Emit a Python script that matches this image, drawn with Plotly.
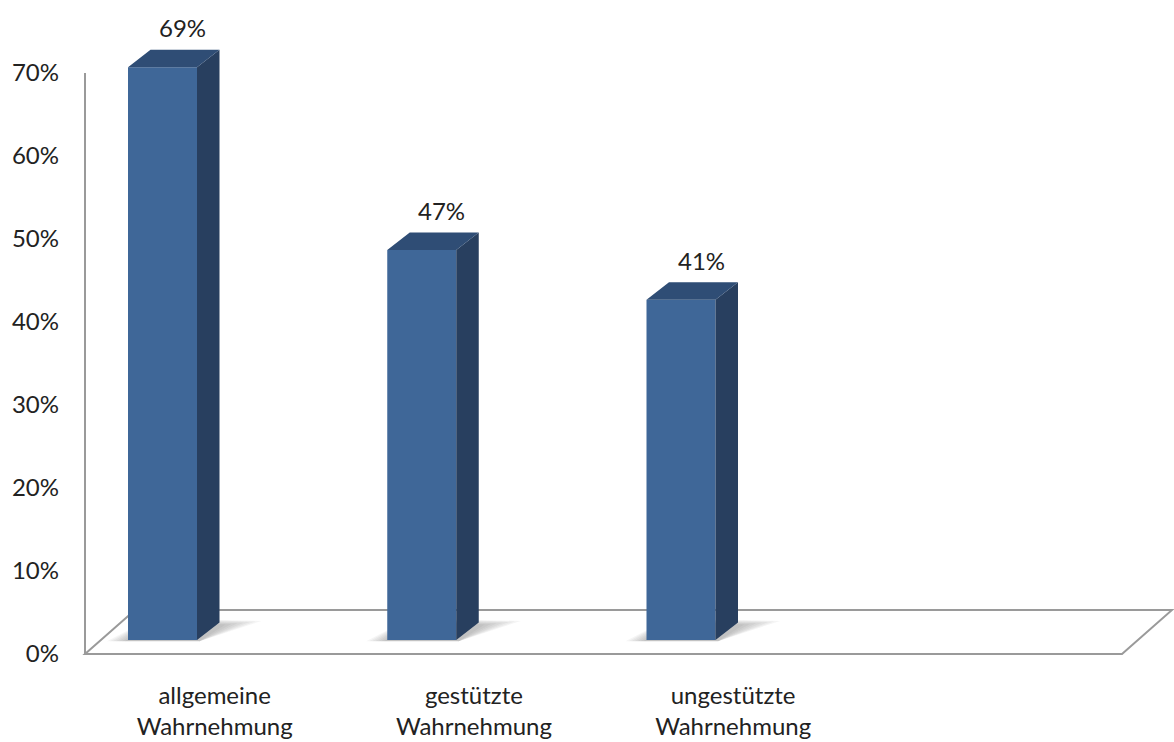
import plotly.graph_objects as go

# ---- data ----
categories = ["allgemeine<br>Wahrnehmung", "gestützte<br>Wahrnehmung", "ungestützte<br>Wahrnehmung", ""]
values = [69, 47, 41]
value_labels = ["69%", "47%", "41%"]
y_ticks = [0, 10, 20, 30, 40, 50, 60, 70]
y_tick_labels = ["0%", "10%", "20%", "30%", "40%", "50%", "60%", "70%"]

# ---- geometry / style constants ----
PX_X = 259.25          # px per category unit
PX_Y = 8.3             # px per percent
X0_PX, Y0_PX = 85, 654
W, H = 1174, 742
ML, MR, MT, MB = 80, 0, 0, 80

FLOOR_DX, FLOOR_DY = 50 / PX_X, 44 / PX_Y
BAR_OFF, BAR_W = 43 / PX_X, 69 / PX_X
BAR_BASE = 14 / PX_Y
DEP_DX, DEP_DY = 22.5 / PX_X, 17.5 / PX_Y

FRONT = "#3F6798"
SIDE = "#283F5F"
TOP = "#2F4D75"
LINE = "#9A9A9A"
TEXT = "#222222"
FONT = "Lato"
FS = 24

x_range = [(ML - X0_PX) / PX_X, (W - MR - X0_PX) / PX_X]
y_range = [(Y0_PX - (H - MB)) / PX_Y, (Y0_PX - MT) / PX_Y]

fig = go.Figure()
ncat = len(categories)

shapes = []
# floor parallelogram
floor_path = (f"M 0,0 L {ncat},0 L {ncat + FLOOR_DX},{FLOOR_DY} "
              f"L {FLOOR_DX},{FLOOR_DY} Z")
shapes.append(dict(type="path", path=floor_path, xref="x", yref="y",
                   line=dict(color=LINE, width=2), fillcolor="white", layer="below"))
# vertical axis line
shapes.append(dict(type="line", x0=0, x1=0, y0=0, y1=y_ticks[-1], xref="x", yref="y",
                   line=dict(color=LINE, width=2), layer="below"))

# soft shadows under bars (layered for a blur look)
for i, v in enumerate(values):
    xl = i + BAR_OFF
    xr = xl + BAR_W
    b = BAR_BASE
    for k in range(6, -1, -1):
        ex_l = (3 + 3 * k) / PX_X
        ex_r = (6 + 6 * k) / PX_X
        up = (0.5 + 0.6 * k) / PX_Y
        path = (f"M {xl - ex_l},{b - 0.15} L {xr + 0.01},{b - 0.15} "
                f"L {xr + DEP_DX + ex_r},{b + DEP_DY - 0.3 + up} "
                f"L {xl + DEP_DX},{b + DEP_DY + up} Z")
        shapes.append(dict(type="path", path=path, xref="x", yref="y",
                           line=dict(width=0), fillcolor="rgba(70,70,70,0.055)",
                           layer="below"))

# front faces
fig.add_trace(go.Bar(
    x=list(range(len(values))), y=values, base=BAR_BASE,
    width=BAR_W, offset=BAR_OFF,
    marker=dict(color=FRONT, line=dict(width=0)),
    hoverinfo="skip", showlegend=False,
))

# side and top faces
side_x, side_y, top_x, top_y = [], [], [], []
for i, v in enumerate(values):
    xl = i + BAR_OFF
    xr = xl + BAR_W
    b = BAR_BASE
    t = BAR_BASE + v
    side_x += [xr, xr + DEP_DX, xr + DEP_DX, xr, xr, None]
    side_y += [b, b + DEP_DY, t + DEP_DY, t, b, None]
    top_x += [xl, xl + DEP_DX, xr + DEP_DX, xr, xl, None]
    top_y += [t, t + DEP_DY, t + DEP_DY, t, t, None]

fig.add_trace(go.Scatter(x=side_x, y=side_y, mode="lines", fill="toself",
                         fillcolor=SIDE, line=dict(width=0, color=SIDE),
                         hoverinfo="skip", showlegend=False))
fig.add_trace(go.Scatter(x=top_x, y=top_y, mode="lines", fill="toself",
                         fillcolor=TOP, line=dict(width=0, color=TOP),
                         hoverinfo="skip", showlegend=False))

# value labels
annotations = []
for i, (v, lab) in enumerate(zip(values, value_labels)):
    annotations.append(dict(
        x=i + BAR_OFF + BAR_W / 2 + 20 / PX_X,
        y=BAR_BASE + v + DEP_DY + 22 / PX_Y,
        text=lab, showarrow=False, xref="x", yref="y",
        xanchor="center", yanchor="middle",
        font=dict(family=FONT, size=FS, color=TEXT)))

fig.update_layout(
    width=W, height=H,
    margin=dict(l=ML, r=MR, t=MT, b=MB),
    paper_bgcolor="white", plot_bgcolor="white",
    shapes=shapes, annotations=annotations,
    showlegend=False,
    font=dict(family=FONT, size=FS, color=TEXT),
    xaxis=dict(range=x_range, showgrid=False, zeroline=False, showline=False,
               tickmode="array", tickvals=[i + 0.5 for i in range(ncat)],
               ticktext=categories, ticks="", ticklabelstandoff=17,
               tickfont=dict(family=FONT, size=FS, color=TEXT), fixedrange=True),
    yaxis=dict(range=y_range, showgrid=False, zeroline=False, showline=False,
               tickmode="array", tickvals=y_ticks, ticktext=y_tick_labels,
               ticks="", ticklabelstandoff=20,
               tickfont=dict(family=FONT, size=FS, color=TEXT), fixedrange=True),
)

fig.write_html("out.html")
